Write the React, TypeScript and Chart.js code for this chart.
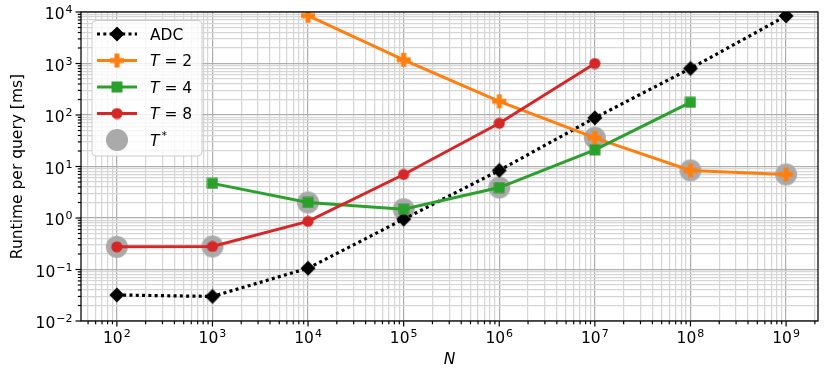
import React, { useEffect, useRef } from "react";
import { Chart, registerables } from "chart.js";
Chart.register(...registerables);

// ---- data (runtime per query in ms vs N) ----
const N_VALUES = [1e2, 1e3, 1e4, 1e5, 1e6, 1e7, 1e8, 1e9];
const ADC_N = N_VALUES;
const ADC_MS = [0.032, 0.03, 0.106, 0.95, 8.4, 88, 800, 8400];
const T2_N = [1e4, 1e5, 1e6, 1e7, 1e8, 1e9];
const T2_MS = [8500, 1180, 184, 36, 8.4, 7.0];
const T4_N = [1e3, 1e4, 1e5, 1e6, 1e7, 1e8];
const T4_MS = [4.7, 2.0, 1.48, 3.9, 21, 176];
const T8_N = [1e2, 1e3, 1e4, 1e5, 1e6, 1e7];
const T8_MS = [0.275, 0.28, 0.86, 7.0, 69, 1000];
const TSTAR_N = N_VALUES;
const TSTAR_MS = [0.275, 0.28, 2.0, 1.48, 3.9, 36, 8.4, 7.0];

const X_TICK_EXPONENTS = [2, 3, 4, 5, 6, 7, 8, 9];
const Y_TICK_EXPONENTS = [-2, -1, 0, 1, 2, 3, 4];
const X_MIN = Math.pow(10, 1.625);
const X_MAX = Math.pow(10, 9.334);
const Y_MIN = 1e-2;
const Y_MAX = 1e4;

const X_TITLE = "N";
const Y_TITLE = "Runtime per query [ms]";

const FONT = "'DejaVu Sans', 'Noto Sans', sans-serif";
const FS = 15.5;
const SUP = 11;

const C_ORANGE = "#ff7f0e";
const C_GREEN = "#2ca02c";
const C_RED = "#d62728";
const C_GRAY = "#aaaaaa";
const GRID_MAJOR = "#b0b0b0";
const GRID_MINOR = "#d6d6d6";

function zip(xs: number[], ys: number[]) {
  return xs.map((x, i) => ({ x, y: ys[i] }));
}

function logTicks(min: number, max: number) {
  const out: number[] = [];
  for (let e = Math.floor(Math.log10(min)); e <= Math.ceil(Math.log10(max)); e++) {
    for (let k = 1; k < 10; k++) {
      const v = k * Math.pow(10, e);
      if (v >= min * 0.99999 && v <= max * 1.00001) out.push(v);
    }
  }
  return out;
}

function isMajor(v: number) {
  if (!(v > 0)) return false;
  const l = Math.log10(v);
  return Math.abs(l - Math.round(l)) < 1e-9;
}

function mkCanvas(w: number, h: number, draw: (c: CanvasRenderingContext2D) => void) {
  const cv = document.createElement("canvas");
  cv.width = w;
  cv.height = h;
  const c = cv.getContext("2d")!;
  draw(c);
  return cv;
}

function makeMarkers() {
  const diamond = mkCanvas(16, 16, (c) => {
    c.fillStyle = "#000";
    c.beginPath();
    c.moveTo(8, 0.5);
    c.lineTo(15.5, 8);
    c.lineTo(8, 15.5);
    c.lineTo(0.5, 8);
    c.closePath();
    c.fill();
  });
  const plus = mkCanvas(16, 16, (c) => {
    c.fillStyle = C_ORANGE;
    const a = 1, b = 15, t1 = 5.5, t2 = 10.5;
    c.beginPath();
    c.moveTo(t1, a);
    c.lineTo(t2, a);
    c.lineTo(t2, t1);
    c.lineTo(b, t1);
    c.lineTo(b, t2);
    c.lineTo(t2, t2);
    c.lineTo(t2, b);
    c.lineTo(t1, b);
    c.lineTo(t1, t2);
    c.lineTo(a, t2);
    c.lineTo(a, t1);
    c.lineTo(t1, t1);
    c.closePath();
    c.fill();
  });
  const square = mkCanvas(12, 12, (c) => {
    c.fillStyle = C_GREEN;
    c.fillRect(0.5, 0.5, 11, 11);
  });
  const circle = mkCanvas(12, 12, (c) => {
    c.fillStyle = C_RED;
    c.beginPath();
    c.arc(6, 6, 5.6, 0, Math.PI * 2);
    c.fill();
  });
  const big = mkCanvas(24, 24, (c) => {
    c.fillStyle = C_GRAY;
    c.beginPath();
    c.arc(12, 12, 11, 0, Math.PI * 2);
    c.fill();
  });
  return { diamond, plus, square, circle, big };
}

function drawPow(
  ctx: CanvasRenderingContext2D,
  exp: number,
  x: number,
  baseY: number,
  supY: number,
  align: "center" | "right"
) {
  const base = "10";
  const sup = exp < 0 ? "\u2212" + Math.abs(exp) : String(exp);
  ctx.font = `${FS}px ${FONT}`;
  const wb = ctx.measureText(base).width;
  ctx.font = `${SUP}px ${FONT}`;
  const ws = ctx.measureText(sup).width;
  const gap = 1;
  const total = wb + gap + ws;
  const left = align === "center" ? x - total / 2 : x - total;
  ctx.textAlign = "left";
  ctx.textBaseline = "alphabetic";
  ctx.fillStyle = "#000";
  ctx.font = `${FS}px ${FONT}`;
  ctx.fillText(base, left, baseY);
  ctx.font = `${SUP}px ${FONT}`;
  ctx.fillText(sup, left + wb + gap, supY);
}

export default function App() {
  const ref = useRef<HTMLCanvasElement>(null);

  useEffect(() => {
    const m = makeMarkers();

    const overlay = {
      id: "mplOverlay",
      afterDraw(chart: any) {
        const ctx: CanvasRenderingContext2D = chart.ctx;
        const a = chart.chartArea;
        const xs = chart.scales.x;
        const ys = chart.scales.y;
        ctx.save();
        // spines
        ctx.strokeStyle = "#000";
        ctx.lineWidth = 1.25;
        ctx.strokeRect(a.left, a.top, a.right - a.left, a.bottom - a.top);
        // tick marks
        ctx.lineWidth = 1.2;
        for (const v of logTicks(X_MIN, X_MAX)) {
          const px = xs.getPixelForValue(v);
          const len = isMajor(v) ? 5.5 : 3.2;
          ctx.beginPath();
          ctx.moveTo(px, a.bottom);
          ctx.lineTo(px, a.bottom + len);
          ctx.stroke();
        }
        for (const v of logTicks(Y_MIN, Y_MAX)) {
          const py = ys.getPixelForValue(v);
          const len = isMajor(v) ? 5.5 : 3.2;
          ctx.beginPath();
          ctx.moveTo(a.left, py);
          ctx.lineTo(a.left - len, py);
          ctx.stroke();
        }
        // tick labels
        for (const e of X_TICK_EXPONENTS) {
          const px = xs.getPixelForValue(Math.pow(10, e));
          drawPow(ctx, e, px, a.bottom + 22, a.bottom + 16, "center");
        }
        for (const e of Y_TICK_EXPONENTS) {
          const py = ys.getPixelForValue(Math.pow(10, e));
          drawPow(ctx, e, a.left - 8.5, py + 7.3, py + 1, "right");
        }
        // axis titles
        ctx.fillStyle = "#000";
        ctx.font = `italic ${FS}px ${FONT}`;
        ctx.textAlign = "center";
        ctx.textBaseline = "alphabetic";
        ctx.fillText(X_TITLE, (a.left + a.right) / 2, 364);
        ctx.save();
        ctx.translate(21.5, (a.top + a.bottom) / 2);
        ctx.rotate(-Math.PI / 2);
        ctx.font = `${FS}px ${FONT}`;
        ctx.fillText(Y_TITLE, 0, 0);
        ctx.restore();

        // legend
        const bx = 92, by = 20.5, bw = 110, bh = 135.5, r = 4;
        ctx.beginPath();
        ctx.moveTo(bx + r, by);
        ctx.lineTo(bx + bw - r, by);
        ctx.arcTo(bx + bw, by, bx + bw, by + r, r);
        ctx.lineTo(bx + bw, by + bh - r);
        ctx.arcTo(bx + bw, by + bh, bx + bw - r, by + bh, r);
        ctx.lineTo(bx + r, by + bh);
        ctx.arcTo(bx, by + bh, bx, by + bh - r, r);
        ctx.lineTo(bx, by + r);
        ctx.arcTo(bx, by, bx + r, by, r);
        ctx.closePath();
        ctx.fillStyle = "rgba(255,255,255,0.8)";
        ctx.fill();
        ctx.strokeStyle = "#cccccc";
        ctx.lineWidth = 1;
        ctx.stroke();

        const rows = [34, 60.5, 87, 113.5, 140];
        const hx0 = 97, hx1 = 137, hm = 117, tx = 150;
        const drawHandleLine = (y: number, color: string, dash: number[]) => {
          ctx.save();
          ctx.strokeStyle = color;
          ctx.lineWidth = dash.length ? 3.2 : 3;
          ctx.setLineDash(dash);
          ctx.beginPath();
          ctx.moveTo(hx0, y);
          ctx.lineTo(hx1, y);
          ctx.stroke();
          ctx.restore();
        };
        const drawImg = (img: HTMLCanvasElement, y: number) => {
          ctx.drawImage(img, hm - img.width / 2, y - img.height / 2);
        };
        drawHandleLine(rows[0], "#000", [3, 3.3]);
        drawImg(m.diamond, rows[0]);
        drawHandleLine(rows[1], C_ORANGE, []);
        drawImg(m.plus, rows[1]);
        drawHandleLine(rows[2], C_GREEN, []);
        drawImg(m.square, rows[2]);
        drawHandleLine(rows[3], C_RED, []);
        drawImg(m.circle, rows[3]);
        drawImg(m.big, rows[4]);

        ctx.fillStyle = "#000";
        ctx.textAlign = "left";
        ctx.textBaseline = "alphabetic";
        ctx.font = `${FS}px ${FONT}`;
        ctx.fillText("ADC", tx, rows[0] + 5.7);
        const tLabel = (y: number, rest: string) => {
          ctx.font = `italic ${FS}px ${FONT}`;
          ctx.fillText("T", tx, y + 5.7);
          const w = ctx.measureText("T").width;
          ctx.font = `${FS}px ${FONT}`;
          ctx.fillText(rest, tx + w, y + 5.7);
        };
        tLabel(rows[1], " = 2");
        tLabel(rows[2], " = 4");
        tLabel(rows[3], " = 8");
        ctx.font = `italic ${FS}px ${FONT}`;
        ctx.fillText("T", tx, rows[4] + 5.7);
        const wT = ctx.measureText("T").width;
        ctx.font = `${SUP}px ${FONT}`;
        ctx.fillText("*", tx + wT + 2, rows[4] - 1);
        ctx.restore();
      },
    };

    const gridColor = (c: any) => (c.tick && isMajor(c.tick.value) ? GRID_MAJOR : GRID_MINOR);

    const chart = new Chart(ref.current!, {
      type: "scatter",
      data: {
        datasets: [
          {
            label: "T*",
            data: zip(TSTAR_N, TSTAR_MS),
            showLine: false,
            pointStyle: m.big as any,
            pointRadius: 11,
            order: 5,
          },
          {
            label: "ADC",
            data: zip(ADC_N, ADC_MS),
            showLine: true,
            borderColor: "#000",
            borderWidth: 3.2,
            borderDash: [3, 3.3],
            pointStyle: m.diamond as any,
            pointRadius: 8,
            order: 4,
          },
          {
            label: "T = 2",
            data: zip(T2_N, T2_MS),
            showLine: true,
            borderColor: C_ORANGE,
            borderWidth: 3,
            pointStyle: m.plus as any,
            pointRadius: 8,
            order: 3,
          },
          {
            label: "T = 4",
            data: zip(T4_N, T4_MS),
            showLine: true,
            borderColor: C_GREEN,
            borderWidth: 3,
            pointStyle: m.square as any,
            pointRadius: 6,
            order: 2,
          },
          {
            label: "T = 8",
            data: zip(T8_N, T8_MS),
            showLine: true,
            borderColor: C_RED,
            borderWidth: 3,
            pointStyle: m.circle as any,
            pointRadius: 6,
            order: 1,
          },
        ],
      },
      options: {
        animation: false,
        responsive: false,
        devicePixelRatio: 1,
        layout: { padding: { top: 11, right: 10, left: 0, bottom: 0 } },
        plugins: { legend: { display: false }, tooltip: { enabled: false } },
        elements: { line: { tension: 0 } },
        scales: {
          x: {
            type: "logarithmic",
            min: X_MIN,
            max: X_MAX,
            afterBuildTicks: (s: any) => {
              s.ticks = logTicks(X_MIN, X_MAX).map((v) => ({ value: v }));
            },
            afterFit: (s: any) => {
              s.height = 48;
            },
            ticks: { display: false },
            grid: { color: gridColor, lineWidth: 1.25, drawTicks: false, tickLength: 0 },
            border: { display: false },
          },
          y: {
            type: "logarithmic",
            min: Y_MIN,
            max: Y_MAX,
            afterBuildTicks: (s: any) => {
              s.ticks = logTicks(Y_MIN, Y_MAX).map((v) => ({ value: v }));
            },
            afterFit: (s: any) => {
              s.width = 81;
            },
            ticks: { display: false },
            grid: { color: gridColor, lineWidth: 1.25, drawTicks: false, tickLength: 0 },
            border: { display: false },
          },
        },
      } as any,
      plugins: [overlay],
    });
    return () => chart.destroy();
  }, []);

  return (
    <div style={{ position: "absolute", left: 0, top: 0, width: 830, height: 369, background: "#fff" }}>
      <canvas ref={ref} width={830} height={369} style={{ display: "block", width: 830, height: 369 }} />
    </div>
  );
}
